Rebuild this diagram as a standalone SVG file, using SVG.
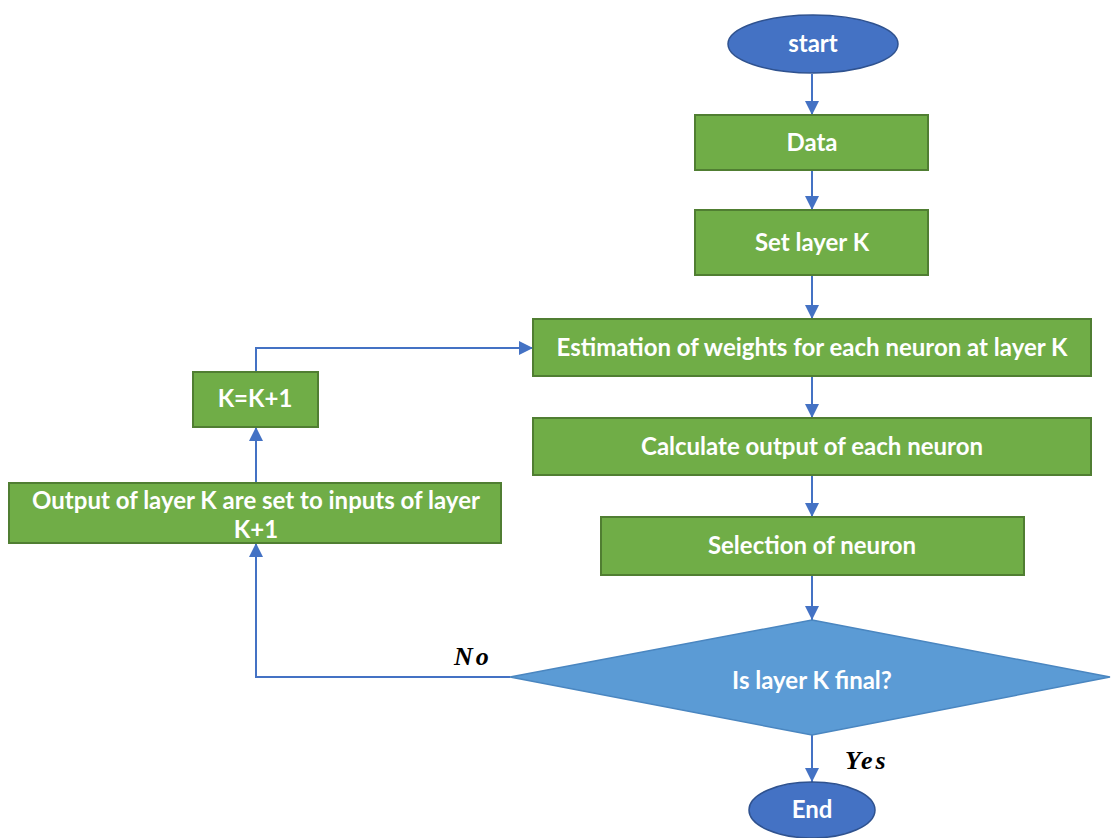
<svg xmlns="http://www.w3.org/2000/svg" width="1112" height="838" viewBox="0 0 1112 838">
  <defs>
    <marker id="arrow" viewBox="0 0 10 10" refX="10" refY="5" markerWidth="7" markerHeight="7" markerUnits="strokeWidth" orient="auto">
      <path d="M0,0 L10,5 L0,10 z" fill="#4472c4"/>
    </marker>
    <style>
      .box { fill: #70ad47; stroke: #507e32; stroke-width: 2; }
      .term { fill: #4472c4; stroke: #2f528f; stroke-width: 1.5; }
      .dec { fill: #5b9bd5; stroke: #4a86c0; stroke-width: 1.5; }
      .lbl { font-family: Lato, "Liberation Sans", sans-serif; font-weight: bold; font-size: 24px; fill: #ffffff; text-anchor: middle; }
      .edge { fill: none; stroke: #4472c4; stroke-width: 2; }
      .cond { font-family: "Liberation Serif", "DejaVu Serif", serif; font-weight: bold; font-style: italic; font-size: 26px; letter-spacing: 3px; fill: #000000; }
    </style>
  </defs>
  <rect width="1112" height="838" fill="#ffffff"/>

  <g id="connectors">
    <path class="edge" d="M812,74 L812,115" marker-end="url(#arrow)"/>
    <path class="edge" d="M812,170 L812,210" marker-end="url(#arrow)"/>
    <path class="edge" d="M812,275 L812,319" marker-end="url(#arrow)"/>
    <path class="edge" d="M812,376 L812,418" marker-end="url(#arrow)"/>
    <path class="edge" d="M812,475 L812,517" marker-end="url(#arrow)"/>
    <path class="edge" d="M812,575 L812,620" marker-end="url(#arrow)"/>
    <path class="edge" d="M812,735 L812,782" marker-end="url(#arrow)"/>
    <path class="edge" d="M510,677 L256,677 L256,543" marker-end="url(#arrow)"/>
    <path class="edge" d="M256,483 L256,427" marker-end="url(#arrow)"/>
    <path class="edge" d="M256,372 L256,348 L533,348" marker-end="url(#arrow)"/>
    <text class="cond" x="454" y="665">No</text>
    <text class="cond" x="845" y="769">Yes</text>
  </g>

  <g id="start">
    <ellipse class="term" cx="813" cy="44" rx="85" ry="29"/>
    <text class="lbl" x="813" y="52">start</text>
  </g>

  <g id="data">
    <rect class="box" x="695" y="115" width="233" height="55"/>
    <text class="lbl" x="812" y="151">Data</text>
  </g>

  <g id="set-layer">
    <rect class="box" x="695" y="210" width="233" height="65"/>
    <text class="lbl" x="812" y="251">Set layer K</text>
  </g>

  <g id="estimation">
    <rect class="box" x="533" y="319" width="558" height="57"/>
    <text class="lbl" x="812" y="356">Estimation of weights for each neuron at layer K</text>
  </g>

  <g id="calculate">
    <rect class="box" x="533" y="418" width="558" height="57"/>
    <text class="lbl" x="812" y="455">Calculate output of each neuron</text>
  </g>

  <g id="selection">
    <rect class="box" x="601" y="517" width="423" height="58"/>
    <text class="lbl" x="812" y="554">Selection of neuron</text>
  </g>

  <g id="decision">
    <polygon class="dec" points="812,620 1110,677 812,735 510,677"/>
    <text class="lbl" x="812" y="689">Is layer K final?</text>
  </g>

  <g id="end">
    <ellipse class="term" cx="812" cy="810" rx="63" ry="28"/>
    <text class="lbl" x="812" y="818">End</text>
  </g>

  <g id="propagate">
    <rect class="box" x="9" y="483" width="492" height="60"/>
    <text class="lbl" x="256" y="509">Output of layer K are set to inputs of layer</text>
    <text class="lbl" x="256" y="538">K+1</text>
  </g>

  <g id="increment">
    <rect class="box" x="193" y="372" width="125" height="55"/>
    <text class="lbl" x="255" y="407">K=K+1</text>
  </g>
</svg>
